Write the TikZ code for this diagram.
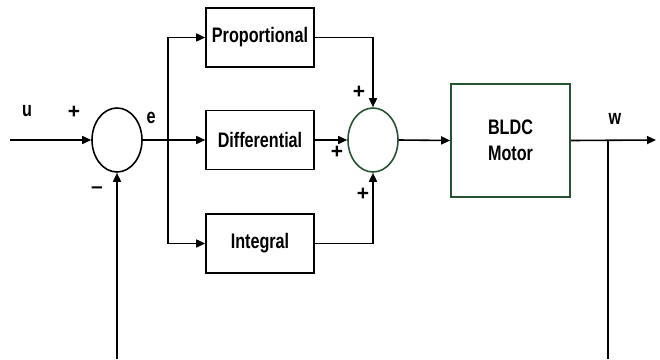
\documentclass[tikz,border=0pt]{standalone}
\usepackage{fontspec}
\setmainfont{Liberation Sans}
\usetikzlibrary{arrows.meta,shapes.geometric}
\definecolor{boxgreen}{RGB}{38,84,50}
% condensed bold labels
\newcommand{\nlab}[1]{\scalebox{0.77}[1]{#1}}

\begin{document}
\begin{tikzpicture}[x=1pt,y=-1pt,
  lbl/.style={font=\fontsize{21}{26}\selectfont\bfseries, inner sep=0pt},
  blk/.style={draw, line width=1.6pt, minimum width=108pt, minimum height=59pt, inner sep=0pt, lbl},
  sumj/.style={draw, ellipse, line width=1.6pt, minimum width=50pt, minimum height=64pt, inner sep=0pt},
  sig/.style={line width=1.6pt, -{Triangle[length=9pt,width=8pt]}},
  wire/.style={line width=1.6pt}]
\useasboundingbox (0,0) rectangle (660,359);

% summing junctions and blocks
\node[sumj] (s1) at (117,140) {};
\node[blk] (prop) at (260,37.5) {\nlab{Proportional}};
\node[blk] (diff) at (260,140) {\nlab{Differential}};
\node[blk] (int) at (260,243.5) {\nlab{Integral}};
\node[sumj, draw=boxgreen] (s2) at (373,140) {};
\node[blk, draw=boxgreen, minimum width=119pt, minimum height=113pt, align=center] (motor) at (510.5,140.5) {\nlab{BLDC}\\\nlab{Motor}};

% free ends of the signal lines
\coordinate (in) at (10,140);
\coordinate (br) at (168,140);
\coordinate (out) at (656,140);
\coordinate (tap) at (608,140);
\coordinate (fbL) at (117,359);
\coordinate (fbR) at (608,359);

% connections
\draw[sig] (in) -- (s1.west);
\draw[sig] (s1.east) -- (diff.west);
\draw[sig] (br) |- (prop.west);
\draw[sig] (br) |- (int.west);
\draw[sig] (prop.east) -| (s2.north);
\draw[sig] (int.east) -| (s2.south);
\draw[sig] (diff.east) -- (s2.west);
\draw[sig] (s2.east) -- (motor.west);
\draw[sig] (motor.east) -- (out);
\draw[wire] (tap) -- (fbR);
\draw[sig] (fbL) -- (s1.south);

% signal names and signs
\node[lbl] (lu) at (27,111) {\nlab{u}};
\node[lbl] (le) at (151,118) {\nlab{e}};
\node[lbl] (lw) at (615,119) {\nlab{w}};
\node[lbl] (p1) at (74,112) {+};
\node[lbl] (m1) at (97,190) {–};
\node[lbl] (p2) at (359,92) {+};
\node[lbl] (p3) at (337,152) {+};
\node[lbl] (p4) at (363,194) {+};
\end{tikzpicture}
\end{document}
